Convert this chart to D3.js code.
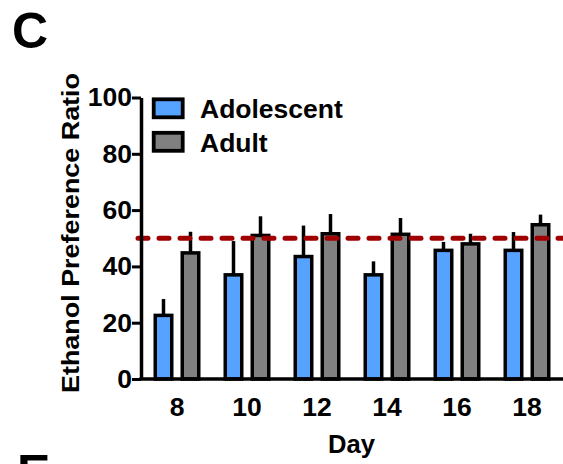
<!DOCTYPE html>
<html>
<head>
<meta charset="utf-8">
<script src="https://cdnjs.cloudflare.com/ajax/libs/d3/7.8.5/d3.min.js"></script>
<style>
  body { margin: 0; background: #fff; }
  svg text { font-family: "Liberation Sans", Arial, sans-serif; font-weight: bold; fill: #000; }
</style>
</head>
<body>
<div id="chart"></div>
<script>
var days = ["8", "10", "12", "14", "16", "18"];
var groups = ["Adolescent", "Adult"];
var adolescent = [22.6, 37, 43.5, 37, 45.7, 45.7];
var adolescentErr = [5.8, 12, 11, 4.8, 3, 6.5];
var adult = [44.8, 51, 51.6, 51.4, 48, 54.8];
var adultErr = [7.5, 6.8, 7, 5.8, 3.6, 3.6];
var yTicks = [0, 20, 40, 60, 80, 100];
var refLine = 50;

var color = d3.scaleOrdinal().domain(groups).range(["#55a2ff", "#808080"]);

var w = 563, h = 464;
var svg = d3.select("#chart").append("svg")
    .attr("width", w)
    .attr("height", h);

var y = d3.scaleLinear().domain([0, 100]).range([379, 97.5]);
var x = d3.scaleBand().domain(days).range([142, 562]).paddingInner(0);
var x1 = d3.scalePoint().domain(groups).range([-13.5, 13.5]);

var data = [];
days.forEach(function(d, i){
    data.push({day: d, group: "Adolescent", v: adolescent[i], e: adolescentErr[i]});
    data.push({day: d, group: "Adult", v: adult[i], e: adultErr[i]});
});

var cx = function(d){ return x(d.day) + x.bandwidth() / 2 + x1(d.group); };
var barW = 16.5;

// error bars (upward only)
svg.selectAll(".err")
    .data(data)
    .enter().append("line")
    .attr("x1", cx).attr("x2", cx)
    .attr("y1", function(d){ return y(d.v); })
    .attr("y2", function(d){ return y(d.v + d.e); })
    .attr("stroke", "#000")
    .attr("stroke-width", 3.5);

svg.selectAll(".bar")
    .data(data)
    .enter().append("rect")
    .attr("x", function(d){ return cx(d) - barW / 2; })
    .attr("y", function(d){ return y(d.v); })
    .attr("width", barW)
    .attr("height", function(d){ return y(0) - y(d.v); })
    .attr("fill", function(d){ return color(d.group); })
    .attr("stroke", "#000")
    .attr("stroke-width", 3.5);

// reference line
svg.append("line")
    .attr("x1", 138).attr("x2", w)
    .attr("y1", y(refLine)).attr("y2", y(refLine))
    .attr("stroke", "#a00000")
    .attr("stroke-width", 5)
    .attr("stroke-linecap", "round")
    .attr("stroke-dasharray", "10 11");

// y axis
var yAxis = svg.append("g")
    .attr("transform", "translate(141,0)")
    .call(d3.axisLeft(y).tickValues(yTicks).tickSize(9).tickPadding(0).tickSizeOuter(0));
yAxis.select(".domain").attr("stroke-width", 3.5);
yAxis.selectAll(".tick line").attr("stroke-width", 3);
yAxis.selectAll(".tick text")
    .style("font-size", "26.5px")
    .attr("fill", "#000");

// x axis
var xAxis = svg.append("g")
    .attr("transform", "translate(0," + y(0) + ")")
    .call(d3.axisBottom(x).tickSize(0).tickPadding(18));
xAxis.select(".domain").attr("d", "M139.5,0H" + w).attr("stroke-width", 3.5);
xAxis.selectAll(".tick text")
    .style("font-size", "26.5px")
    .attr("fill", "#000");

// axis titles
svg.append("text")
    .attr("transform", "translate(79,233) rotate(-90)")
    .attr("text-anchor", "middle")
    .attr("textLength", 320)
    .attr("lengthAdjust", "spacingAndGlyphs")
    .style("font-size", "24px")
    .text("Ethanol Preference Ratio");

svg.append("text")
    .attr("x", 351.5).attr("y", 453)
    .attr("text-anchor", "middle")
    .style("font-size", "25.6px")
    .text("Day");

// legend
var legend = svg.selectAll(".legend")
    .data(groups)
    .enter().append("g")
    .attr("transform", function(d, i){ return "translate(153.7," + (99.3 + i * 33.5) + ")"; });
legend.append("rect")
    .attr("width", 29).attr("height", 18)
    .attr("fill", function(d){ return color(d); })
    .attr("stroke", "#000")
    .attr("stroke-width", 3.8);
legend.append("text")
    .attr("x", 46.3).attr("y", 19)
    .style("font-size", "26.5px")
    .text(function(d){ return d; });

// panel letters
svg.append("text")
    .attr("x", 12).attr("y", 48)
    .style("font-size", "50px")
    .text("C");
svg.append("text")
    .attr("x", 17).attr("y", 490)
    .style("font-size", "50px")
    .text("E");
</script>
</body>
</html>
